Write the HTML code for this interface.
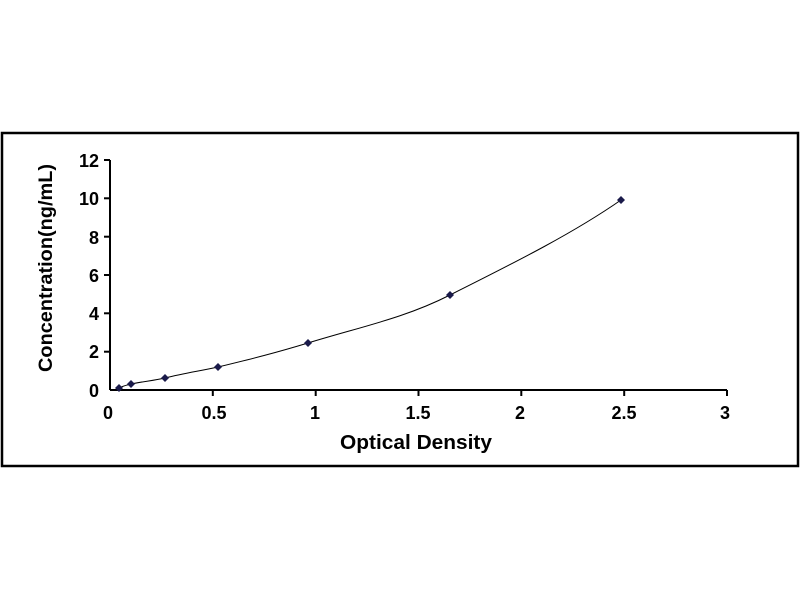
<!DOCTYPE html>
<html><head><style>body{margin:0;background:#fff}</style></head><body>
<svg width="800" height="600" xmlns="http://www.w3.org/2000/svg" font-family="Liberation Sans, sans-serif" font-weight="bold">
<rect x="2" y="133" width="796" height="333" fill="#fff" stroke="#000" stroke-width="2.5"/>
<g stroke="#000" stroke-width="2">
<line x1="110" y1="160" x2="110" y2="390"/>
<line x1="110" y1="390" x2="727" y2="390"/>
<line x1="104" y1="160" x2="110" y2="160"/><line x1="104" y1="198.3" x2="110" y2="198.3"/>
<line x1="104" y1="236.7" x2="110" y2="236.7"/><line x1="104" y1="275" x2="110" y2="275"/>
<line x1="104" y1="313.3" x2="110" y2="313.3"/><line x1="104" y1="351.7" x2="110" y2="351.7"/>
<line x1="212.8" y1="390" x2="212.8" y2="396"/><line x1="315.7" y1="390" x2="315.7" y2="396"/>
<line x1="418.5" y1="390" x2="418.5" y2="396"/><line x1="521.3" y1="390" x2="521.3" y2="396"/>
<line x1="624.2" y1="390" x2="624.2" y2="396"/><line x1="727" y1="390" x2="727" y2="396"/>
</g>
<g font-size="18" text-anchor="end">
<text x="99" y="167">12</text><text x="99" y="205">10</text><text x="99" y="244">8</text>
<text x="99" y="282">6</text><text x="99" y="320">4</text><text x="99" y="358">2</text><text x="99" y="397">0</text>
</g>
<g font-size="18" text-anchor="middle">
<text x="108" y="419">0</text><text x="214" y="419">0.5</text><text x="315" y="419">1</text>
<text x="418" y="419">1.5</text><text x="520" y="419">2</text><text x="624" y="419">2.5</text><text x="725" y="419">3</text>
</g>
<text x="416" y="449" font-size="20" text-anchor="middle" textLength="152" lengthAdjust="spacingAndGlyphs">Optical Density</text>
<text transform="translate(52,268) rotate(-90)" font-size="19" text-anchor="middle" textLength="208" lengthAdjust="spacingAndGlyphs">Concentration(ng/mL)</text>
<path d="M119,388 C123,386 127,385 131,384 C145,381 152,381 165,378 C185,373 200,371 218,367 C255,358 275,353 308,343 C360,327 405,318 450,295 C520,260 575,232 621,200" fill="none" stroke="#000" stroke-width="1"/>
<g fill="#1a1a4a">
<path d="M119,384 l4,4 l-4,4 l-4,-4z"/><path d="M131,380 l4,4 l-4,4 l-4,-4z"/>
<path d="M165,374 l4,4 l-4,4 l-4,-4z"/><path d="M218,363 l4,4 l-4,4 l-4,-4z"/>
<path d="M308,339 l4,4 l-4,4 l-4,-4z"/><path d="M450,291 l4,4 l-4,4 l-4,-4z"/>
<path d="M621,196 l4,4 l-4,4 l-4,-4z"/>
</g>
</svg>
</body></html>
